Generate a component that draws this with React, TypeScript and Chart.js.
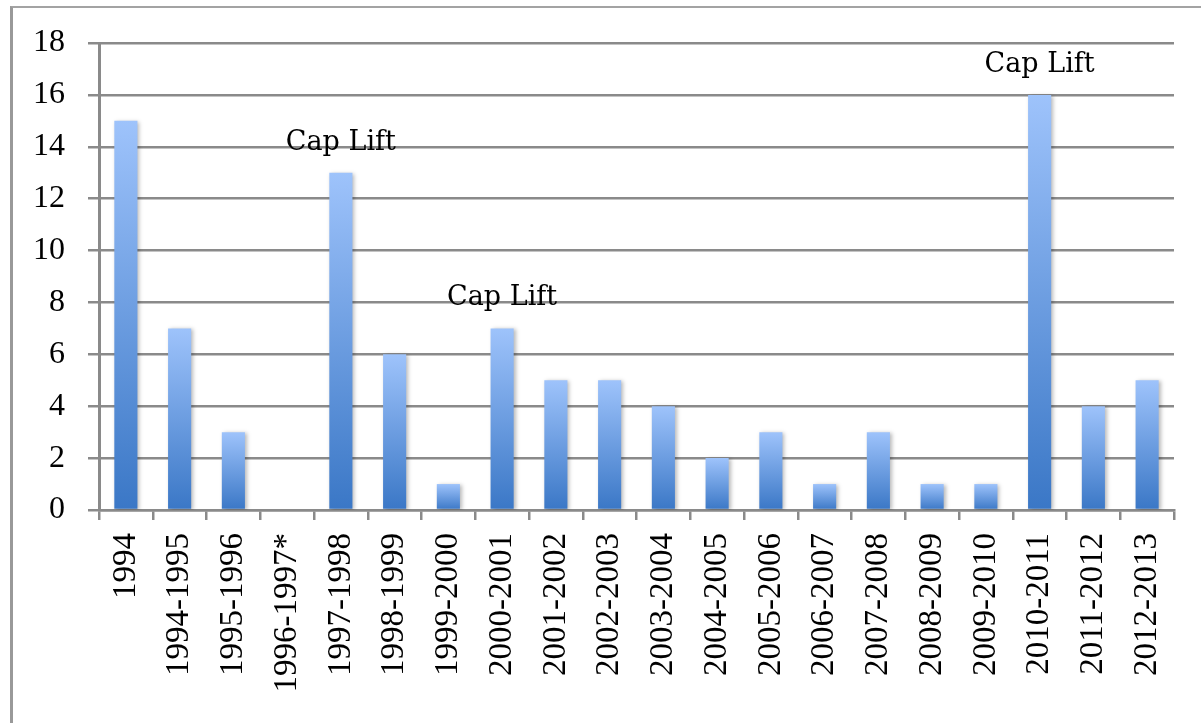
import React, { useEffect, useRef } from "react";
import { Chart, registerables } from "chart.js";

Chart.register(...registerables);

const categories = [
  "1994", "1994-1995", "1995-1996", "1996-1997*", "1997-1998", "1998-1999",
  "1999-2000", "2000-2001", "2001-2002", "2002-2003", "2003-2004", "2004-2005",
  "2005-2006", "2006-2007", "2007-2008", "2008-2009", "2009-2010", "2010-2011",
  "2011-2012", "2012-2013",
];
const values = [15, 7, 3, 0, 13, 6, 1, 7, 5, 5, 4, 2, 3, 1, 3, 1, 1, 16, 4, 5];
const annotations = [
  "", "", "", "", "Cap Lift", "", "", "Cap Lift", "", "", "", "", "", "", "", "", "",
  "Cap Lift", "", "",
];
const yMin = 0;
const yMax = 18;
const yStep = 2;

export default function App() {
  const ref = useRef<HTMLCanvasElement>(null);

  useEffect(() => {
    if (!ref.current) return;
    const labelPlugin = {
      id: "capLift",
      beforeDatasetsDraw(chart: any) {
        const ctx = chart.ctx;
        ctx.save();
        ctx.shadowColor = "rgba(0,0,0,0.28)";
        ctx.shadowBlur = 4;
        ctx.shadowOffsetX = 2;
        ctx.shadowOffsetY = 1;
      },
      afterDatasetsDraw(chart: any) {
        const ctx = chart.ctx;
        ctx.restore();
        const meta = chart.getDatasetMeta(0);
        ctx.save();
        ctx.font = "27px 'DejaVu Serif'";
        ctx.fillStyle = "#000";
        ctx.textAlign = "center";
        ctx.textBaseline = "alphabetic";
        annotations.forEach((t, i) => {
          if (!t) return;
          const el = meta.data[i];
          ctx.fillText(t, el.x, el.y - 23);
        });
        ctx.restore();
      },
    };

    const chart = new Chart(ref.current, {
      type: "bar",
      data: {
        labels: categories,
        datasets: [
          {
            data: values,
            backgroundColor: (c: any) => {
              const ch = c.chart;
              const ys = ch.scales && ch.scales.y;
              if (!ys || c.raw === undefined) return "#6b9be0";
              const top = ys.getPixelForValue(c.raw);
              const bottom = ys.getPixelForValue(0);
              if (!isFinite(top) || !isFinite(bottom) || top === bottom) return "#6b9be0";
              const g = ch.ctx.createLinearGradient(0, top, 0, bottom);
              g.addColorStop(0, "#9ec3fb");
              g.addColorStop(1, "#3a77c6");
              return g;
            },
            borderWidth: 0,
            categoryPercentage: 1,
            barPercentage: 0.43,
          },
        ],
      },
      options: {
        responsive: false,
        animation: false,
        layout: { padding: { top: 43, right: 6, bottom: 0, left: 0 } },
        plugins: {
          legend: { display: false },
          tooltip: { enabled: false },
          title: { display: false },
        },
        scales: {
          x: {
            grid: {
              display: true,
              drawOnChartArea: false,
              drawTicks: true,
              tickLength: 10,
              color: "#8a8a8a",
              lineWidth: 2.5,
              offset: true,
            },
            border: { display: true, color: "#8a8a8a", width: 2.5 },
            ticks: {
              minRotation: 90,
              maxRotation: 90,
              autoSkip: false,
              padding: 13,
              color: "#000",
              font: { family: "'Liberation Serif'", size: 33 },
            },
            afterFit: (s: any) => {
              s.height = 213;
              s.paddingLeft = 0;
              s.paddingRight = 0;
            },
          },
          y: {
            min: yMin,
            max: yMax,
            ticks: {
              stepSize: yStep,
              padding: 23,
              color: "#000",
              font: { family: "'Liberation Serif'", size: 32 },
            },
            grid: {
              color: "#8a8a8a",
              lineWidth: 2.5,
              tickLength: 11,
              drawTicks: true,
            },
            border: { display: true, color: "#8a8a8a", width: 3 },
            afterFit: (s: any) => {
              s.width = 99;
            },
          },
        },
      },
      plugins: [labelPlugin],
    } as any);
    return () => chart.destroy();
  }, []);

  return (
    <div
      style={{
        position: "fixed",
        left: 0,
        top: 0,
        width: 1201,
        height: 723,
        background: "#fff",
        overflow: "hidden",
      }}
    >
      <div
        style={{
          position: "absolute",
          left: 10,
          top: 6,
          width: 1300,
          height: 800,
          borderTop: "2px solid #a3a3a3",
          borderLeft: "3px solid #999",
          boxSizing: "border-box",
        }}
      />
      <canvas
        ref={ref}
        width={1180}
        height={723}
        style={{ position: "absolute", left: 0, top: 0, display: "block" }}
      />
    </div>
  );
}
